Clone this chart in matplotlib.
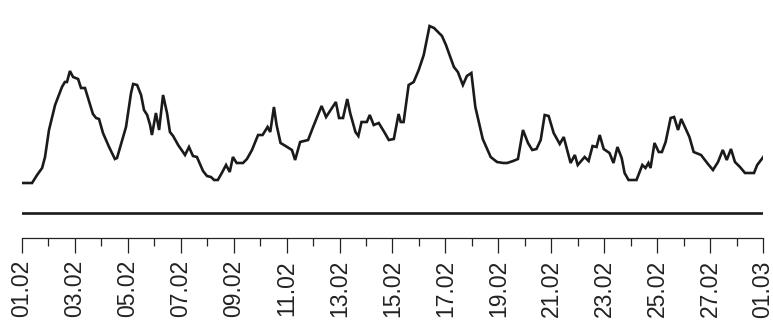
import numpy as np
import matplotlib.pyplot as plt

plt.rcParams['font.family'] = ['Liberation Sans', 'DejaVu Sans']

# time in days since 01.02 (arbitrary units)
days = [
    -0.04, 0.38, 0.57, 0.76, 0.87, 1.02, 1.25, 1.51, 1.62, 1.70, 1.81, 1.93,
    2.12, 2.23, 2.38, 2.68, 2.80, 2.91, 3.06, 3.29, 3.51, 3.59, 3.82, 3.93,
    4.12, 4.20, 4.35, 4.50, 4.61, 4.73, 4.84, 4.91, 5.06, 5.18, 5.33, 5.48,
    5.59, 5.71, 5.90, 6.16, 6.31, 6.46, 6.61, 6.84, 6.99, 7.14, 7.26, 7.40,
    7.55, 7.71, 7.85, 7.97, 8.11, 8.35, 8.50, 8.69, 8.92, 9.09, 9.28, 9.38,
    9.52, 9.62, 9.77, 9.96, 10.20, 10.32, 10.51, 10.81, 11.00, 11.32, 11.49,
    11.86, 11.98, 12.13, 12.29, 12.40, 12.60, 12.71, 12.83, 13.03, 13.14,
    13.29, 13.48, 13.71, 13.86, 14.05, 14.23, 14.31, 14.42, 14.61, 14.80,
    14.99, 15.18, 15.40, 15.57, 15.87, 16.02, 16.32, 16.47, 16.66, 16.81,
    16.98, 17.13, 17.41, 17.71, 17.95, 18.19, 18.33, 18.56, 18.74, 18.93,
    19.12, 19.28, 19.44, 19.60, 19.75, 19.90, 20.09, 20.32, 20.47, 20.73,
    20.89, 21.00, 21.26, 21.41, 21.56, 21.71, 21.83, 21.98, 22.20, 22.35,
    22.50, 22.66, 22.77, 22.92, 23.22, 23.44, 23.56, 23.67, 23.75, 23.90,
    24.06, 24.18, 24.32, 24.51, 24.64, 24.79, 24.91, 25.22, 25.38, 25.66,
    25.92, 26.11, 26.30, 26.48, 26.63, 26.79, 26.94, 27.13, 27.32, 27.66,
    27.78, 28.04,
]
values = [
    30, 30, 38, 45, 56, 83, 108, 126, 131, 131, 142, 136, 134, 125, 125, 99,
    95, 94, 80, 66, 54, 55, 76, 86, 120, 129, 128, 118, 103, 98, 88, 78, 100,
    83, 118, 100, 81, 77, 68, 58, 66, 57, 56, 42, 37, 36, 33, 33, 40, 48, 41,
    56, 50, 50, 54, 63, 78, 78, 86, 81, 106, 88, 70, 67, 63, 53, 71, 73, 86,
    107, 96, 111, 95, 95, 114, 100, 81, 77, 91, 91, 98, 88, 90, 80, 73, 74,
    99, 91, 91, 128, 131, 143, 158, 187, 185, 177, 168, 146, 141, 128, 137,
    140, 106, 74, 56, 51, 50, 50, 52, 54, 83, 70, 63, 64, 73, 98, 97, 80, 69,
    76, 50, 58, 48, 56, 52, 67, 66, 78, 64, 60, 50, 66, 55, 40, 33, 33, 48,
    45, 50, 45, 70, 61, 61, 71, 95, 96, 83, 94, 76, 61, 58, 49, 43, 51, 63,
    53, 64, 51, 46, 40, 40, 48, 57,
]

tick_days = np.arange(0, 29, 2)
tick_labels = ['01.02', '03.02', '05.02', '07.02', '09.02', '11.02', '13.02',
               '15.02', '17.02', '19.02', '21.02', '23.02', '25.02', '27.02',
               '01.03']

fig = plt.figure(figsize=(7.73, 3.26), dpi=100)
ax = fig.add_axes([22 / 773, 88 / 326, 741 / 773, 238 / 326])

ax.plot(days, values, color='#1a1a1a', lw=1.9, solid_joinstyle='miter')
ax.plot([-0.04, 28.08], [0, 0], color='#1a1a1a', lw=1.9)

ax.set_xlim(0, 28)
ax.set_ylim(-25, 213)

for s in ['top', 'left', 'right']:
    ax.spines[s].set_visible(False)
ax.spines['bottom'].set_linewidth(0.9)
ax.spines['bottom'].set_color('#222222')
ax.spines['bottom'].set_bounds(0, 28)

ax.set_yticks([])
ax.set_xticks(tick_days)
ax.set_xticks(np.arange(1, 28, 2), minor=True)
ax.set_xticklabels(tick_labels, rotation=90, fontsize=16.5, color='#222222')
ax.tick_params(axis='x', which='major', length=11, width=0.9, pad=5,
               color='#222222')
ax.tick_params(axis='x', which='minor', length=5.5, width=0.9,
               color='#222222')

fig.savefig('out.png', dpi=100)
